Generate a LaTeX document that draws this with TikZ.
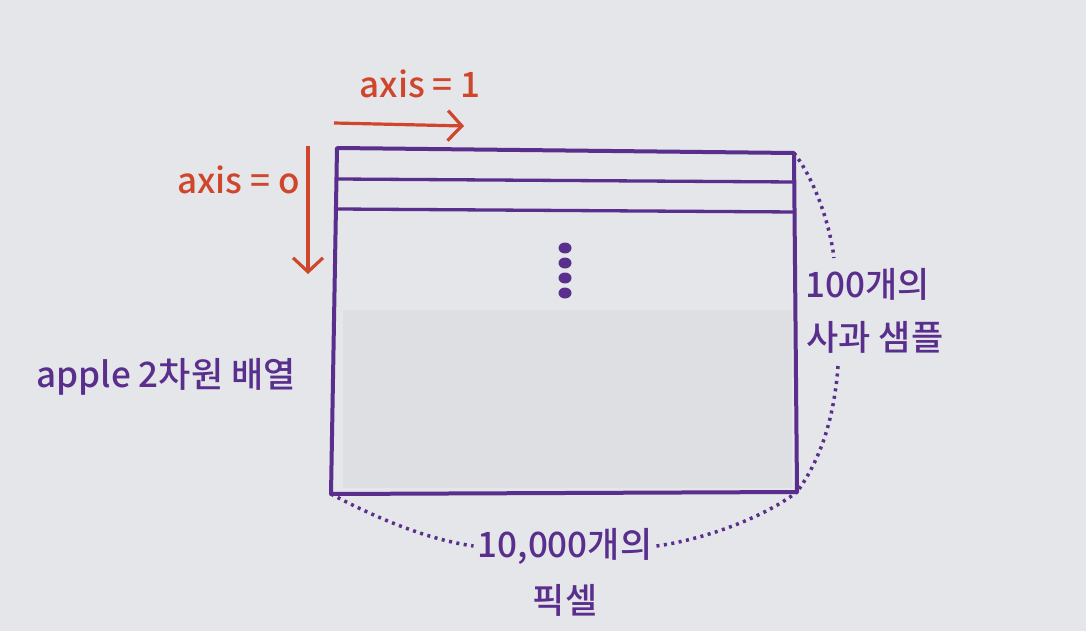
\documentclass[tikz,border=0pt]{standalone}
\usepackage{fontspec}
\setmainfont{Noto Sans CJK KR}[UprightFont={* Medium}]
\usetikzlibrary{arrows.meta}
\definecolor{paper}{HTML}{E4E6EA}
\definecolor{inner}{HTML}{DDDFE3}
\definecolor{ink}{HTML}{5A2E8C}
\definecolor{axred}{HTML}{D0462C}
\tikzset{
  lbl/.style={font=\fontsize{35}{38}\selectfont, inner sep=0pt},
  redlbl/.style={lbl, text=axred},
  purplbl/.style={lbl, text=ink},
  redarrow/.style={draw=axred, line width=3.2pt, -{Straight Barb[length=14pt,width=30pt,line width=3.2pt]}},
  boxline/.style={draw=ink, line width=4pt},
  dotline/.style={draw=ink, line width=3.5pt, dash pattern=on 3pt off 4.5pt},
}
\begin{document}
\begin{tikzpicture}[x=1pt,y=-1pt]
\fill[paper] (0,0) rectangle (1086,631);
\useasboundingbox (0,0) rectangle (1086,631);
% array box
\coordinate (tl) at (337,148);
\coordinate (tr) at (794,153);
\coordinate (br) at (797,492);
\coordinate (bl) at (331,494);
\fill[inner] (343,310) rectangle (792,488);
\draw[boxline, line join=round] (tl) -- (tr) -- (br) -- (bl) -- cycle;
\draw[boxline, line width=3.3pt] (338,179) -- (794,182);
\draw[boxline, line width=3.3pt] (338,209) -- (795,212);
\foreach \yy in {248,263,278,293} \fill[ink] (565,\yy) ellipse (6.5pt and 5.5pt);
% axis arrows
\coordinate (a1s) at (334,123);
\coordinate (a1e) at (464,126);
\draw[redarrow] (a1s) -- (a1e);
\node[redlbl] (ax1) at (420,84) {axis = 1};
\coordinate (a0s) at (308,146);
\coordinate (a0e) at (308,274);
\draw[redarrow] (a0s) -- (a0e);
\node[redlbl, anchor=east] (ax0) at (300,180) {axis = o};
% labels
\node[purplbl] (arr) at (166,377) {apple 2차원 배열};
\node[purplbl] (n100) at (868,284) {100개의};
\node[purplbl] (apple) at (875,337) {사과 샘플};
\node[purplbl] (n10k) at (565,546) {10,000개의};
\node[purplbl] (pix) at (565,600) {픽셀};
% dotted braces
\coordinate (rt) at (834,258);
\coordinate (rb) at (838,366);
\draw[dotline] (tr) .. controls (815,180) and (830,225) .. (rt);
\draw[dotline] (rb) .. controls (834,420) and (820,460) .. (br);
\draw[dotline] (bl) .. controls (380,520) and (430,540) .. ([xshift=-4pt]n10k.west);
\draw[dotline] ([xshift=4pt]n10k.east) .. controls (700,540) and (760,520) .. (br);
\end{tikzpicture}
\end{document}
